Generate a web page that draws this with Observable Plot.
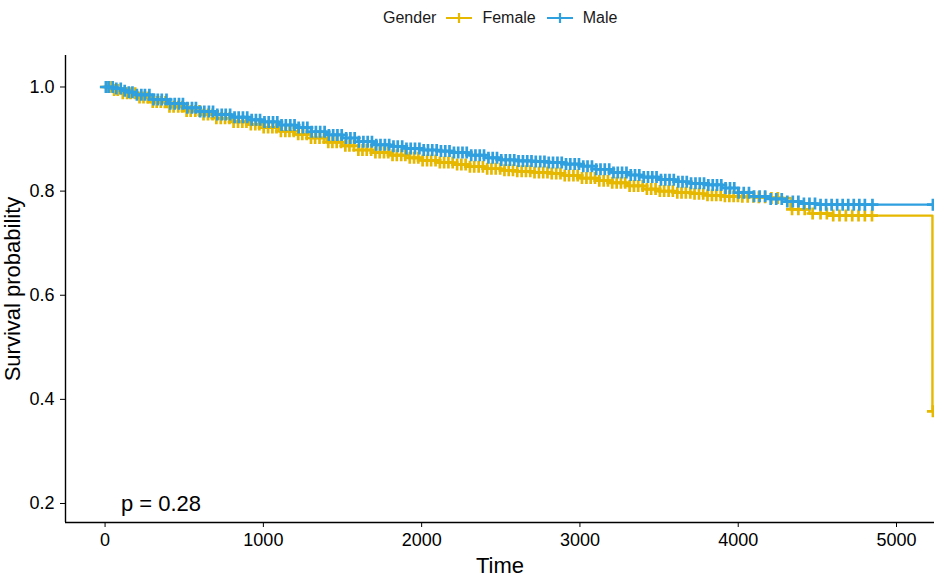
<!DOCTYPE html>
<html><head><meta charset="utf-8">
<script src="https://cdn.jsdelivr.net/npm/d3@7"></script>
<script src="https://cdn.jsdelivr.net/npm/@observablehq/plot@0.6"></script>
<style>
body{margin:0;background:#fff;font-family:"Liberation Sans",Arial,Helvetica,sans-serif;}
#wrap{position:relative;width:934px;height:580px;overflow:hidden;}
#legend{position:absolute;left:383px;top:0;height:35px;display:flex;align-items:center;font-size:16px;color:#1a1a1a;white-space:nowrap;}
#legend .key{margin:0 10px;display:block;}
#legend .lab{margin-right:1px;}
#chart{position:absolute;left:0;top:35px;}
</style></head>
<body><div id="wrap"><div id="legend"></div><div id="chart"></div></div>
<script>
const legendTitle = "Gender";
const groups = ["Female", "Male"];
const colors = ["#E7B800", "#2E9FDF"];
const timeTicks = [0, 1000, 2000, 3000, 4000, 5000];
const probTicks = [0.2, 0.4, 0.6, 0.8, 1.0];
const pLabel = "p = 0.28";

const femaleTime = [0,50,100,200,300,400,500,600,700,800,900,1000,1100,1200,1300,1400,1500,1600,1700,1800,1900,2000,2100,2200,2300,2400,2500,2600,2700,2800,2900,3000,3100,3200,3300,3400,3500,3600,3700,3800,3900,4000,4100,4200,4330,4450,4600,5227];
const femaleSurv = [1.0,0.994,0.988,0.980,0.971,0.962,0.954,0.947,0.940,0.933,0.928,0.922,0.915,0.909,0.902,0.894,0.887,0.879,0.874,0.869,0.864,0.859,0.855,0.851,0.847,0.843,0.840,0.838,0.836,0.834,0.830,0.825,0.820,0.816,0.810,0.804,0.800,0.797,0.795,0.792,0.790,0.789,0.788,0.787,0.765,0.757,0.753,0.377];

const maleTime = [0,50,100,150,200,300,400,500,600,700,800,900,1000,1100,1200,1300,1400,1500,1600,1700,1800,1900,2000,2100,2200,2300,2400,2500,2600,2700,2800,2900,3000,3100,3200,3300,3400,3500,3600,3700,3800,3900,4000,4100,4200,4300,4400,4500];
const maleSurv = [1.0,0.997,0.993,0.990,0.985,0.976,0.968,0.960,0.953,0.947,0.942,0.937,0.933,0.927,0.922,0.914,0.908,0.902,0.895,0.889,0.886,0.882,0.879,0.877,0.874,0.869,0.864,0.860,0.858,0.857,0.855,0.852,0.848,0.842,0.836,0.831,0.827,0.822,0.818,0.815,0.812,0.806,0.797,0.790,0.785,0.780,0.776,0.774];
const maleEndTime = 5230;

const femaleCensor = [8,31,57,80,112,139,161,190,218,243,270,301,326,352,381,407,433,462,488,515,541,570,596,622,650,679,703,731,758,786,812,840,867,893,921,949,975,1002,1030,1057,1083,1111,1139,1165,1192,1220,1246,1274,1301,1327,1355,1383,1410,1436,1463,1491,1518,1544,1572,1600,1626,1653,1681,1708,1735,1762,1789,1816,1843,1871,1897,1925,1952,1979,2006,2034,2060,2088,2115,2142,2169,2196,2224,2251,2278,2305,2332,2360,2387,2414,2441,2468,2496,2523,2550,2577,2604,2632,2659,2686,2713,2741,2768,2795,2822,2850,2877,2904,2931,2959,2986,3013,3041,3068,3095,3122,3150,3177,3204,3232,3259,3286,3314,3341,3368,3396,3423,3450,3478,3505,3532,3560,3587,3615,3642,3669,3697,3724,3752,3779,3806,3834,3861,3889,3916,3944,3971,3998,4026,4060,4095,4130,4170,4210,4250,4340,4380,4420,4470,4520,4560,4600,4640,4680,4720,4760,4800,4845,5230];
const maleCensor = [5,22,48,71,99,124,150,173,201,229,252,280,306,333,358,388,412,440,467,492,520,549,574,601,627,656,682,709,737,762,790,818,844,871,898,926,953,979,1007,1034,1061,1088,1115,1142,1170,1197,1223,1251,1278,1305,1332,1359,1387,1414,1441,1468,1495,1523,1550,1577,1604,1632,1659,1686,1713,1740,1768,1795,1822,1849,1877,1904,1931,1958,1986,2013,2040,2067,2095,2122,2149,2176,2204,2231,2258,2285,2313,2340,2367,2394,2422,2449,2476,2503,2531,2558,2585,2612,2640,2667,2694,2721,2749,2776,2803,2830,2858,2885,2912,2939,2967,2994,3021,3048,3076,3103,3130,3157,3185,3212,3239,3266,3294,3321,3348,3375,3403,3430,3457,3484,3512,3539,3566,3593,3621,3648,3675,3702,3730,3757,3784,3811,3839,3866,3893,3920,3948,3975,4002,4035,4068,4100,4135,4170,4205,4240,4275,4310,4345,4380,4415,4450,4485,4520,4555,4590,4625,4660,4695,4730,4765,4800,4848,5230];

// build tables
const curves = [];
femaleTime.forEach((t, i) => curves.push({group: "Female", time: t, surv: femaleSurv[i]}));
maleTime.forEach((t, i) => curves.push({group: "Male", time: t, surv: maleSurv[i]}));
curves.push({group: "Male", time: maleEndTime, surv: maleSurv[maleSurv.length - 1]});

function survAt(times, survs, t) {
  const i = d3.bisectRight(times, t) - 1;
  return survs[Math.max(0, i)];
}
const censors = [];
femaleCensor.forEach(t => censors.push({group: "Female", time: t, surv: survAt(femaleTime, femaleSurv, t)}));
maleCensor.forEach(t => censors.push({group: "Male", time: t, surv: survAt(maleTime, maleSurv, t)}));

const plusSymbol = {
  draw(ctx, size) {
    const r = Math.sqrt(size / Math.PI);
    ctx.moveTo(-r, 0); ctx.lineTo(r, 0);
    ctx.moveTo(0, -r); ctx.lineTo(0, r);
  }
};

const xDomain = [-250, 5240];
const yDomain = [0.1635, 1.0605];
const font = "'Liberation Sans', Arial, Helvetica, sans-serif";

const chart = Plot.plot({
  width: 934,
  height: 545,
  marginLeft: 65,
  marginRight: 0,
  marginTop: 20,
  marginBottom: 58,
  style: {fontFamily: font, background: "white", color: "#000"},
  x: {domain: xDomain},
  y: {domain: yDomain},
  color: {domain: groups, range: colors},
  marks: [
    Plot.line(curves.filter(d => d.group === "Female"), {x: "time", y: "surv", stroke: "group", curve: "step-after", strokeWidth: 2.4}),
    Plot.dot(censors.filter(d => d.group === "Female"), {x: "time", y: "surv", stroke: "group", symbol: plusSymbol, r: 6, fill: "none", strokeWidth: 2.7}),
    Plot.line(curves.filter(d => d.group === "Male"), {x: "time", y: "surv", stroke: "group", curve: "step-after", strokeWidth: 2.4}),
    Plot.dot(censors.filter(d => d.group === "Male"), {x: "time", y: "surv", stroke: "group", symbol: plusSymbol, r: 6, fill: "none", strokeWidth: 2.7}),
    Plot.ruleX([xDomain[0]], {stroke: "#000", strokeWidth: 1.4}),
    Plot.ruleY([yDomain[0]], {stroke: "#000", strokeWidth: 1.4}),
    Plot.axisX({ticks: timeTicks, tickSize: 5, tickPadding: 6, fontSize: 18, label: null, tickFormat: d3.format("d"), stroke: "#000", fill: "#000"}),
    Plot.axisY({ticks: probTicks, tickSize: 5, tickPadding: 6, fontSize: 18, label: null, tickFormat: d3.format(".1f"), stroke: "#000", fill: "#000"}),
    Plot.text([pLabel], {x: 100, y: 0.2, text: d => d, textAnchor: "start", fontSize: 22, fill: "#000"}),
    Plot.text(["Time"], {frameAnchor: "bottom", dy: 50, text: d => d, fontSize: 22, fill: "#000"}),
    Plot.text(["Survival probability"], {frameAnchor: "left", dx: -53, rotate: -90, textAnchor: "middle", text: d => d, fontSize: 22, fill: "#000"})
  ]
});
document.getElementById("chart").appendChild(chart);

// legend
const leg = document.getElementById("legend");
const title = document.createElement("span");
title.textContent = legendTitle;
leg.appendChild(title);
groups.forEach((g, i) => {
  const ns = "http://www.w3.org/2000/svg";
  const s = document.createElementNS(ns, "svg");
  s.setAttribute("width", 26); s.setAttribute("height", 14); s.setAttribute("class", "key");
  const l1 = document.createElementNS(ns, "path");
  l1.setAttribute("d", "M0,7H26M13,2V12");
  l1.setAttribute("stroke", colors[i]); l1.setAttribute("stroke-width", 2.2); l1.setAttribute("fill", "none");
  s.appendChild(l1);
  leg.appendChild(s);
  const lab = document.createElement("span");
  lab.className = "lab";
  lab.textContent = g;
  leg.appendChild(lab);
});
</script>
</body></html>
